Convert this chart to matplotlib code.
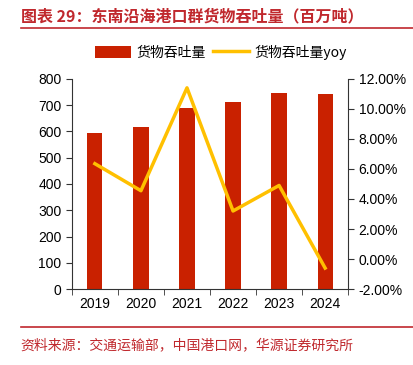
import matplotlib
matplotlib.use("Agg")
import matplotlib.pyplot as plt
import numpy as np

plt.rcParams['font.family'] = ['Noto Sans CJK SC', 'DejaVu Sans']

### DATA ###
years = ["2019", "2020", "2021", "2022", "2023", "2024"]
throughput = [594, 618, 690, 712, 747, 742]
yoy = [6.35, 4.55, 11.4, 3.2, 4.9, -0.6]

BAR_COLOR = "#C92100"
LINE_COLOR = "#FFC000"
RED = "#C0282D"
NUM_FONT = "Liberation Sans"

fig = plt.figure(figsize=(4.13, 3.65), dpi=100)
ax = fig.add_axes([0.174, 0.208, 0.669, 0.576])
x = np.arange(len(years))
bars = ax.bar(x, throughput, width=0.33, color=BAR_COLOR, zorder=2, label="货物吞吐量")
ax.set_xlim(-0.5, len(years) - 0.5)
ax.set_ylim(0, 800)
ax.set_yticks(range(0, 801, 100))
ax.set_xticks(x)
ax.set_xticklabels(years, family=NUM_FONT, fontsize=10)
ax.set_yticklabels([str(v) for v in range(0, 801, 100)], family=NUM_FONT, fontsize=10)
ax.set_xticks(np.arange(-0.5, len(years) + 0.5, 1), minor=True)
ax.tick_params(axis="x", which="major", length=0, pad=6)
ax.tick_params(axis="x", which="minor", length=4, color="#333333")
ax.tick_params(axis="y", length=4, color="#333333")
for s in ["top", "right"]:
    ax.spines[s].set_visible(False)
ax.spines["left"].set_color("#333333")
ax.spines["bottom"].set_color("#333333")

ax2 = ax.twinx()
line, = ax2.plot(x, yoy, color=LINE_COLOR, linewidth=2.5, label="货物吞吐量yoy", zorder=3)
ax2.set_ylim(-2, 12)
ax2.set_yticks(range(-2, 13, 2))
ax2.set_yticklabels([f"{v:.2f}%" for v in range(-2, 13, 2)], family=NUM_FONT, fontsize=10)
ax2.tick_params(axis="y", length=4, color="#333333")
for s in ["top", "left", "bottom"]:
    ax2.spines[s].set_visible(False)
ax2.spines["right"].set_color("#333333")

fig.legend(handles=[bars, line], loc="center", bbox_to_anchor=(0.535, 0.857), ncol=2,
           frameon=False, fontsize=10, handlelength=2.6, handleheight=0.9,
           columnspacing=0.5, handletextpad=0.4)

# title and source
fig.text(0.05, 0.955, "图表 29：东南沿海港口群货物吞吐量（百万吨）", color=RED,
         fontsize=11.5, fontweight="bold", va="center")
fig.add_artist(plt.Line2D([0.05, 1.0], [0.922, 0.922], color=RED, linewidth=1.2))
fig.add_artist(plt.Line2D([0.05, 1.0], [0.104, 0.104], color=RED, linewidth=1.2))
fig.text(0.05, 0.055, "资料来源：交通运输部，中国港口网，华源证券研究所", color=RED,
         fontsize=10, va="center")

plt.savefig("out.png", dpi=100)
